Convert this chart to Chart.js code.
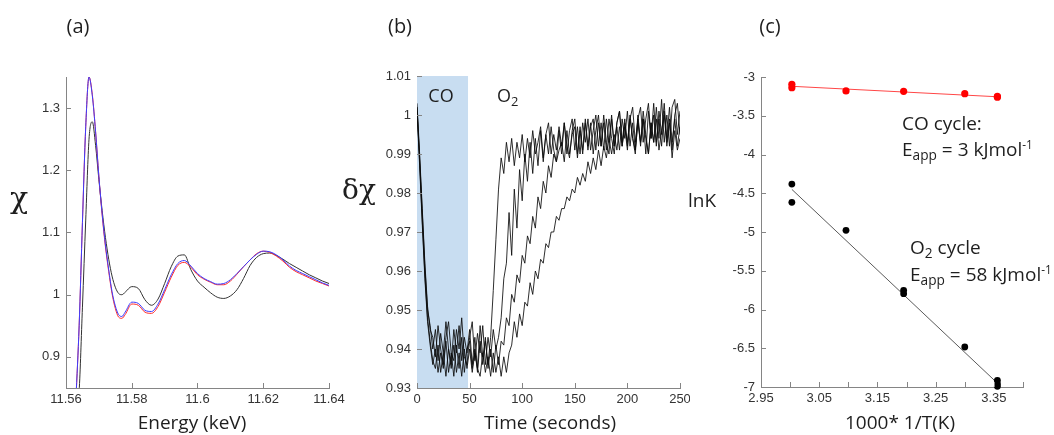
<!DOCTYPE html>
<html><head><meta charset="utf-8">
<script src="https://cdn.jsdelivr.net/npm/chart.js@4.4.0/dist/chart.umd.min.js"></script>
<style>
html,body{margin:0;padding:0;background:#fff;}
#wrap{position:relative;width:1054px;height:435px;overflow:hidden;background:#fff;}
canvas{position:absolute;top:0;}
.t{position:absolute;font-family:'Open Sans',sans-serif;color:#1e1e1e;white-space:nowrap;line-height:1;}
.c{transform:translate(-50%,-50%);}
.l{transform:translate(0,-50%);}
.sub{font-size:0.72em;position:relative;top:0.32em;}
.sup{font-size:0.62em;position:relative;top:-0.6em;}
.g{font-family:'DejaVu Serif','Liberation Serif',serif;}
</style></head>
<body>
<div id="wrap">
<canvas id="ca" width="345" height="435" style="left:0;width:345px;height:435px"></canvas>
<canvas id="cb" width="345" height="435" style="left:345px;width:345px;height:435px"></canvas>
<canvas id="cc" width="364" height="435" style="left:690px;width:364px;height:435px"></canvas>

<div class="t c" style="left:78px;top:26px;font-size:20px">(a)</div>
<div class="t c" style="left:400px;top:26px;font-size:20px">(b)</div>
<div class="t c" style="left:770px;top:26px;font-size:20px">(c)</div>

<div class="t c g" style="left:19px;top:198px;font-size:30px">χ</div>
<div class="t c g" style="left:359px;top:190px;font-size:28px">δχ</div>
<div class="t l" style="left:688px;top:200px;font-size:19px">lnK</div>

<div class="t c" style="left:192px;top:422px;font-size:19px">Energy (keV)</div>
<div class="t c" style="left:550px;top:422px;font-size:19px">Time (seconds)</div>
<div class="t c" style="left:900px;top:422px;font-size:19px">1000* 1/T(K)</div>

<div class="t c" style="left:441px;top:95px;font-size:18px">CO</div>
<div class="t l" style="left:497px;top:95px;font-size:18px">O<span class="sub">2</span></div>

<div class="t l" style="left:902px;top:123px;font-size:19px">CO cycle:</div>
<div class="t l" style="left:902px;top:149px;font-size:19px">E<span class="sub">app</span> = 3 kJmol<span class="sup">-1</span></div>
<div class="t l" style="left:910px;top:247px;font-size:19px">O<span class="sub">2</span> cycle</div>
<div class="t l" style="left:910px;top:274px;font-size:19px">E<span class="sub">app</span> = 58 kJmol<span class="sup">-1</span></div>
</div>

<script>
// ===== Panel (a): spectra =====
const energyKeV = [11.563, 11.564, 11.565, 11.566, 11.567, 11.568, 11.569, 11.570, 11.571, 11.572,
  11.573, 11.574, 11.575, 11.576, 11.577, 11.578,
  11.580, 11.582, 11.584, 11.586, 11.588, 11.590, 11.592, 11.594, 11.596, 11.598,
  11.600, 11.602, 11.604, 11.606, 11.608, 11.610, 11.612, 11.614, 11.616, 11.618,
  11.620, 11.622, 11.624, 11.626, 11.628, 11.630, 11.632, 11.634, 11.636, 11.638, 11.640];
const chiBlue = [0.830, 0.950, 1.116, 1.270, 1.350, 1.320, 1.262, 1.190, 1.130, 1.080,
  1.040, 1.005, 0.982, 0.968, 0.965, 0.972,
  0.988, 0.986, 0.975, 0.973, 0.985, 1.008, 1.032, 1.050, 1.055, 1.046,
  1.034, 1.026, 1.021, 1.017, 1.018, 1.024, 1.034, 1.045, 1.056, 1.065,
  1.070, 1.069, 1.064, 1.056, 1.046, 1.039, 1.034, 1.029, 1.024, 1.019, 1.015];
const chiRed = [0.830, 0.950, 1.116, 1.270, 1.350, 1.322, 1.262, 1.190, 1.128, 1.077,
  1.037, 1.002, 0.978, 0.964, 0.962, 0.968,
  0.985, 0.983, 0.972, 0.970, 0.981, 1.004, 1.028, 1.047, 1.052, 1.044,
  1.032, 1.025, 1.020, 1.016, 1.016, 1.022, 1.033, 1.045, 1.056, 1.066,
  1.070, 1.068, 1.062, 1.054, 1.044, 1.037, 1.032, 1.027, 1.022, 1.018, 1.014];
const chiBlack = [0.800, 0.845, 0.980, 1.120, 1.250, 1.278, 1.240, 1.185, 1.135, 1.092,
  1.057, 1.030, 1.012, 1.002, 1.000, 1.004,
  1.013, 1.010, 0.992, 0.983, 0.993, 1.018, 1.045, 1.062, 1.064, 1.040,
  1.022, 1.012, 1.003, 0.996, 0.994, 0.998, 1.008, 1.026, 1.047, 1.060,
  1.066, 1.067, 1.063, 1.057, 1.050, 1.044, 1.038, 1.032, 1.027, 1.022, 1.018];
const aXTicks = [11.56, 11.58, 11.60, 11.62, 11.64];
const aXTickLabels = ['11.56', '11.58', '11.6', '11.62', '11.64'];
const aYTicks = [0.9, 1.0, 1.1, 1.2, 1.3];
const aYTickLabels = ['0.9', '1', '1.1', '1.2', '1.3'];

// ===== Panel (b): time-resolved traces =====
const timeSec = [0, 2.5, 5, 7.5, 10, 12.5, 15, 17.5, 20, 22.5,
  25, 27.5, 30, 32.5, 35, 37.5, 40, 42.5, 45, 47.5,
  50, 52.5, 55, 57.5, 60, 62.5, 65, 67.5, 70, 72.5,
  75, 77.5, 80, 82.5, 85, 87.5, 90, 92.5, 95, 97.5,
  100, 102.5, 105, 107.5, 110, 112.5, 115, 117.5, 120, 122.5,
  125, 127.5, 130, 132.5, 135, 137.5, 140, 142.5, 145, 147.5,
  150, 152.5, 155, 157.5, 160, 162.5, 165, 167.5, 170, 172.5,
  175, 177.5, 180, 182.5, 185, 187.5, 190, 192.5, 195, 197.5,
  200, 202.5, 205, 207.5, 210, 212.5, 215, 217.5, 220, 222.5,
  225, 227.5, 230, 232.5, 235, 237.5, 240, 242.5, 245, 247.5, 250];
const traceA = [1.002, 0.989, 0.975, 0.961, 0.950, 0.946, 0.940, 0.945, 0.937, 0.944,
  0.939, 0.947, 0.940, 0.936, 0.945, 0.939, 0.946, 0.937, 0.943, 0.939,
  0.945, 0.936, 0.943, 0.935, 0.946, 0.938, 0.942, 0.936, 0.943, 0.955,
  0.968, 0.981, 0.989, 0.985, 0.993, 0.988, 0.994, 0.987, 0.993, 0.989,
  0.995, 0.988, 0.994, 0.989, 0.996, 0.990, 0.993, 0.997, 0.989, 0.995,
  0.998, 0.990, 0.995, 0.991, 0.997, 0.992, 0.998, 0.990, 0.996, 0.999,
  0.991, 0.997, 0.990, 0.998, 0.993, 0.999, 0.991, 0.996, 1.000, 0.992,
  0.998, 0.991, 0.999, 0.993, 1.000, 0.992, 0.997, 0.991, 0.999, 0.994,
  1.001, 0.992, 0.998, 0.991, 1.000, 0.993, 0.999, 0.990, 1.001, 0.994,
  1.003, 0.993, 0.999, 0.992, 1.001, 0.994, 1.002, 0.993, 0.999, 0.992, 0.997];
const traceB = [1.003, 0.990, 0.976, 0.962, 0.951, 0.945, 0.943, 0.938, 0.946, 0.940,
  0.936, 0.943, 0.947, 0.939, 0.937, 0.945, 0.940, 0.948, 0.938, 0.936,
  0.943, 0.947, 0.937, 0.944, 0.939, 0.946, 0.936, 0.943, 0.938, 0.945,
  0.940, 0.943, 0.948, 0.958, 0.962, 0.975, 0.964, 0.981, 0.971, 0.986,
  0.978, 0.990, 0.983, 0.993, 0.985, 0.994, 0.987, 0.996, 0.988, 0.995,
  0.990, 0.997, 0.991, 0.988, 0.996, 0.990, 0.998, 0.992, 0.989, 0.996,
  0.999, 0.990, 0.997, 0.991, 0.999, 0.992, 0.998, 0.990, 0.996, 1.000,
  0.992, 0.998, 0.991, 0.999, 0.994, 0.990, 0.998, 1.001, 0.992, 0.997,
  0.991, 0.999, 1.002, 0.993, 0.999, 0.992, 1.001, 0.995, 0.990, 0.998,
  0.993, 1.002, 0.994, 1.004, 0.993, 1.000, 0.992, 1.002, 1.004, 0.995, 1.001];
const traceC = [1.001, 0.987, 0.972, 0.958, 0.947, 0.941, 0.936, 0.940, 0.934, 0.939,
  0.935, 0.942, 0.934, 0.939, 0.933, 0.941, 0.935, 0.943, 0.934, 0.940,
  0.942, 0.935, 0.940, 0.934, 0.942, 0.936, 0.943, 0.935, 0.940, 0.934,
  0.941, 0.936, 0.942, 0.941, 0.948, 0.946, 0.954, 0.952, 0.959, 0.957,
  0.964, 0.962, 0.969, 0.967, 0.974, 0.971, 0.979, 0.976, 0.983, 0.980,
  0.987, 0.984, 0.990, 0.988, 0.991, 0.993, 0.988, 0.996, 0.990, 0.995,
  0.997, 0.989, 0.996, 0.990, 0.998, 0.991, 0.997, 0.999, 0.991, 0.998,
  0.992, 1.000, 0.993, 0.990, 0.999, 0.992, 0.998, 1.001, 0.993, 0.999,
  0.992, 1.000, 0.994, 0.990, 0.999, 1.002, 0.993, 0.999, 1.003, 0.994,
  1.000, 0.992, 1.001, 0.995, 1.003, 0.993, 0.999, 0.991, 1.000, 1.003, 0.995];
const traceD = [1.002, 0.988, 0.973, 0.959, 0.948, 0.942, 0.937, 0.935, 0.941, 0.934,
  0.939, 0.933, 0.940, 0.935, 0.941, 0.934, 0.939, 0.933, 0.940, 0.935,
  0.940, 0.934, 0.939, 0.935, 0.933, 0.939, 0.934, 0.938, 0.933, 0.939,
  0.934, 0.938, 0.933, 0.938, 0.934, 0.939, 0.941, 0.947, 0.943, 0.949,
  0.946, 0.952, 0.951, 0.957, 0.954, 0.960, 0.958, 0.963, 0.962, 0.967,
  0.966, 0.970, 0.970, 0.974, 0.973, 0.976, 0.976, 0.979, 0.978, 0.981,
  0.980, 0.984, 0.982, 0.985, 0.983, 0.988, 0.985, 0.989, 0.986, 0.991,
  0.987, 0.992, 0.989, 0.994, 0.990, 0.995, 0.991, 0.997, 0.992, 0.998,
  0.993, 0.999, 0.994, 0.991, 0.998, 0.993, 0.999, 0.994, 0.990, 0.998,
  0.993, 0.999, 0.991, 0.996, 1.000, 0.992, 0.998, 0.989, 0.996, 0.991, 0.994];
const coWindow = [0, 48.5];
const bXTicks = [0, 50, 100, 150, 200, 250];
const bXTickLabels = ['0', '50', '100', '150', '200', '250'];
const bYTicks = [0.93, 0.94, 0.95, 0.96, 0.97, 0.98, 0.99, 1.00, 1.01];
const bYTickLabels = ['0.93', '0.94', '0.95', '0.96', '0.97', '0.98', '0.99', '1', '1.01'];

// ===== Panel (c): Arrhenius plot =====
const invT_CO = [3.003, 3.003, 3.096, 3.195, 3.300, 3.356, 3.356];
const lnK_CO = [-3.095, -3.138, -3.180, -3.185, -3.215, -3.250, -3.260];
const invT_O2 = [3.003, 3.003, 3.096, 3.195, 3.195, 3.300, 3.356, 3.356, 3.356];
const lnK_O2 = [-4.381, -4.617, -4.978, -5.753, -5.796, -6.484, -6.914, -6.957, -6.990];
const coFitX = [3.003, 3.356];
const coFitY = [-3.120, -3.255];
const o2FitX = [3.003, 3.356];
const o2FitY = [-4.450, -6.950];
const cXTicks = [2.95, 3.00, 3.05, 3.10, 3.15, 3.20, 3.25, 3.30, 3.35, 3.40];
const cXTickLabels = ['2.95', '', '3.05', '', '3.15', '', '3.25', '', '3.35', ''];
const cYTicks = [-7, -6.5, -6, -5.5, -5, -4.5, -4, -3.5, -3];
const cYTickLabels = ['-7', '-6.5', '-6', '-5.5', '-5', '-4.5', '-4', '-3.5', '-3'];

// ===== helpers =====
const pts = (xs, ys) => xs.map((x, i) => ({ x: x, y: ys[i] }));

const inwardTicks = {
  id: 'inwardTicks',
  afterDraw(chart) {
    const ctx = chart.ctx, a = chart.chartArea;
    const xs = chart.scales.x, ys = chart.scales.y;
    ctx.save();
    ctx.strokeStyle = '#858585';
    ctx.lineWidth = 1;
    ctx.beginPath();
    xs.ticks.forEach(t => {
      const p = Math.round(xs.getPixelForValue(t.value)) + 0.5;
      ctx.moveTo(p, a.bottom); ctx.lineTo(p, a.bottom - 5);
    });
    ys.ticks.forEach(t => {
      const p = Math.round(ys.getPixelForValue(t.value)) + 0.5;
      ctx.moveTo(a.left, p); ctx.lineTo(a.left + 5, p);
    });
    ctx.stroke();
    ctx.restore();
  }
};

const coShade = {
  id: 'coShade',
  beforeDatasetsDraw(chart) {
    const ctx = chart.ctx, a = chart.chartArea, xs = chart.scales.x;
    const x0 = xs.getPixelForValue(coWindow[0]), x1 = xs.getPixelForValue(coWindow[1]);
    ctx.save();
    ctx.fillStyle = 'rgb(200,221,241)';
    ctx.fillRect(x0, a.top, x1 - x0, a.bottom - a.top);
    ctx.restore();
  }
};

function axis(min, max, ticks, labels, size, isX) {
  return {
    type: 'linear', min: min, max: max,
    grid: { display: true, drawOnChartArea: false, drawTicks: false },
    border: { display: true, color: '#858585', width: 1 },
    ticks: {
      autoSkip: false, maxRotation: 0, minRotation: 0,
      padding: isX ? 4 : 6,
      color: '#333333',
      font: { family: "'Liberation Sans', Arial, sans-serif", size: 13 },
      callback: (v, i) => labels[i]
    },
    afterBuildTicks: s => { s.ticks = ticks.map(v => ({ value: v })); },
    afterFit: s => {
      if (isX) s.height = size; else s.width = size;
      s.paddingLeft = 0; s.paddingRight = 0; s.paddingTop = 0; s.paddingBottom = 0;
    }
  };
}

function baseOptions(pad, xAxis, yAxis) {
  return {
    responsive: false, animation: false, devicePixelRatio: 1,
    layout: { padding: pad },
    plugins: { legend: { display: false }, tooltip: { enabled: false } },
    scales: { x: xAxis, y: yAxis }
  };
}

// ===== Chart (a) =====
new Chart(document.getElementById('ca'), {
  type: 'scatter',
  data: {
    datasets: [
      { data: pts(energyKeV, chiBlue), showLine: true, borderColor: 'rgb(60,60,255)', borderWidth: 1, pointRadius: 0, cubicInterpolationMode: 'monotone' },
      { data: pts(energyKeV, chiRed), showLine: true, borderColor: 'rgb(255,40,40)', borderWidth: 1, pointRadius: 0, cubicInterpolationMode: 'monotone' },
      { data: pts(energyKeV, chiBlack), showLine: true, borderColor: 'rgb(50,50,50)', borderWidth: 1, pointRadius: 0, cubicInterpolationMode: 'monotone' }
    ]
  },
  options: baseOptions({ left: 0, top: 77, right: 16, bottom: 0 },
    axis(11.56, 11.64, aXTicks, aXTickLabels, 47, true),
    axis(0.85, 1.35, aYTicks, aYTickLabels, 66, false)),
  plugins: [inwardTicks]
});

// ===== Chart (b) =====
const traceStyle = { showLine: true, borderColor: 'rgba(10,10,10,0.85)', borderWidth: 1, pointRadius: 0, tension: 0 };
new Chart(document.getElementById('cb'), {
  type: 'scatter',
  data: {
    datasets: [
      Object.assign({ data: pts(timeSec, traceA) }, traceStyle),
      Object.assign({ data: pts(timeSec, traceB) }, traceStyle),
      Object.assign({ data: pts(timeSec, traceC) }, traceStyle),
      Object.assign({ data: pts(timeSec, traceD) }, traceStyle)
    ]
  },
  options: baseOptions({ left: 0, top: 76, right: 10, bottom: 0 },
    axis(0, 250, bXTicks, bXTickLabels, 47, true),
    axis(0.93, 1.01, bYTicks, bYTickLabels, 72, false)),
  plugins: [coShade, inwardTicks]
});

// ===== Chart (c) =====
new Chart(document.getElementById('cc'), {
  type: 'scatter',
  data: {
    datasets: [
      { data: pts(invT_CO, lnK_CO), pointRadius: 3.6, pointBackgroundColor: 'rgb(255,0,0)', pointBorderWidth: 0, showLine: false, clip: false },
      { data: pts(invT_O2, lnK_O2), pointRadius: 3.4, pointBackgroundColor: '#000', pointBorderWidth: 0, showLine: false, clip: false },
      { data: pts(coFitX, coFitY), showLine: true, borderColor: 'rgb(255,70,70)', borderWidth: 1, pointRadius: 0 },
      { data: pts(o2FitX, o2FitY), showLine: true, borderColor: 'rgb(90,90,90)', borderWidth: 1, pointRadius: 0 }
    ]
  },
  options: baseOptions({ left: 0, top: 77, right: 31, bottom: 0 },
    axis(2.95, 3.40, cXTicks, cXTickLabels, 48, true),
    axis(-7, -3, cYTicks, cYTickLabels, 71, false)),
  plugins: [inwardTicks]
});
</script>
</body></html>
